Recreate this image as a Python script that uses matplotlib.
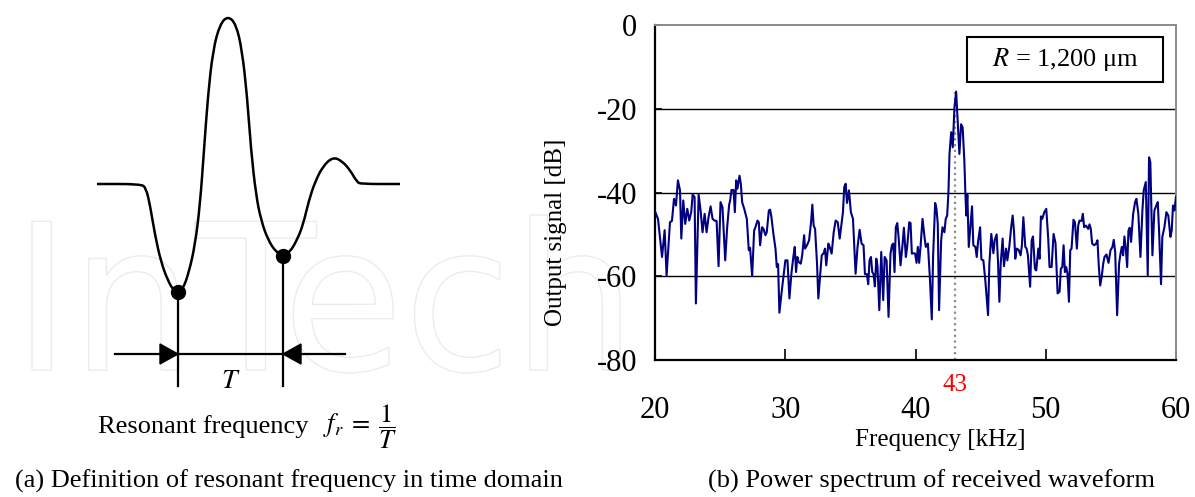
import numpy as np
import matplotlib
matplotlib.use('Agg')
import matplotlib.pyplot as plt
from matplotlib.path import Path
from matplotlib.patches import PathPatch, Polygon, Rectangle
from matplotlib.textpath import TextPath
from matplotlib.font_manager import FontProperties
from matplotlib.transforms import Affine2D

plt.rcParams['font.family'] = ['Liberation Serif', 'DejaVu Serif']
plt.rcParams['mathtext.fontset'] = 'stix'
plt.rcParams['axes.unicode_minus'] = False

W, H = 1195, 497

# received waveform power spectrum
freq_khz = [
    20.00, 20.23, 20.54, 20.74, 20.89, 21.15, 21.30, 21.46, 21.61, 21.76,
    21.92, 22.02, 22.17, 22.32, 22.48, 22.63, 22.78, 22.89, 23.04, 23.14,
    23.35, 23.50, 23.65, 23.81, 23.96, 24.11, 24.27, 24.42, 24.57, 24.73,
    24.88, 25.03, 25.18, 25.39, 25.54, 25.69, 25.77, 25.87, 26.03, 26.13,
    26.23, 26.33, 26.49, 26.59, 26.69, 26.85, 27.05, 27.20, 27.30, 27.46,
    27.61, 27.71, 27.87, 27.97, 28.07, 28.22, 28.33, 28.48, 28.58, 28.74,
    28.84, 28.94, 29.09, 29.25, 29.35, 29.45, 29.55, 29.71, 29.86, 30.01,
    30.17, 30.32, 30.47, 30.62, 30.73, 30.83, 30.93, 31.03, 31.19, 31.30,
    31.45, 31.52, 31.67, 31.83, 31.98, 32.08, 32.18, 32.29, 32.44, 32.54,
    32.69, 32.80, 32.95, 33.05, 33.15, 33.31, 33.41, 33.56, 33.72, 33.87,
    34.03, 34.18, 34.33, 34.43, 34.53, 34.64, 34.74, 34.89, 35.04, 35.20,
    35.40, 35.55, 35.71, 35.86, 36.01, 36.12, 36.27, 36.37, 36.47, 36.58,
    36.68, 36.78, 36.88, 36.99, 37.08, 37.22, 37.37, 37.52, 37.63, 37.78,
    37.93, 38.08, 38.19, 38.29, 38.39, 38.49, 38.60, 38.70, 38.85, 39.00,
    39.11, 39.26, 39.36, 39.52, 39.62, 39.72, 39.87, 39.97, 40.08, 40.18,
    40.28, 40.38, 40.54, 40.69, 40.79, 40.95, 41.10, 41.25, 41.35, 41.51,
    41.61, 41.71, 41.81, 41.97, 42.07, 42.22, 42.32, 42.43, 42.53, 42.61,
    42.74, 42.86, 42.99, 43.12, 43.24, 43.37, 43.50, 43.62, 43.75, 43.83,
    43.90, 43.98, 44.09, 44.19, 44.34, 44.44, 44.60, 44.70, 44.80, 44.96,
    45.06, 45.21, 45.36, 45.47, 45.57, 45.67, 45.82, 45.98, 46.08, 46.23,
    46.33, 46.44, 46.54, 46.69, 46.79, 46.95, 47.05, 47.20, 47.36, 47.46,
    47.56, 47.66, 47.77, 47.92, 48.07, 48.17, 48.28, 48.43, 48.53, 48.63,
    48.80, 48.92, 49.02, 49.17, 49.27, 49.43, 49.53, 49.63, 49.73, 49.89,
    50.04, 50.19, 50.29, 50.45, 50.60, 50.75, 50.91, 51.06, 51.16, 51.27,
    51.37, 51.47, 51.57, 51.67, 51.78, 51.88, 51.98, 52.13, 52.24, 52.39,
    52.49, 52.59, 52.75, 52.85, 52.95, 53.10, 53.26, 53.36, 53.46, 53.56,
    53.72, 53.87, 53.97, 54.07, 54.18, 54.30, 54.41, 54.51, 54.66, 54.82,
    54.97, 55.12, 55.22, 55.33, 55.48, 55.63, 55.74, 55.84, 55.94, 56.04,
    56.14, 56.25, 56.35, 56.45, 56.55, 56.71, 56.86, 56.96, 57.11, 57.27,
    57.42, 57.52, 57.68, 57.83, 57.93, 58.03, 58.19, 58.34, 58.49, 58.60,
    58.70, 58.85, 58.95, 59.11, 59.26, 59.41, 59.57, 59.67, 59.77, 59.88,
    60.00,
]
level_db = [
    -44.5, -46.3, -55.4, -49.0, -59.8, -47.1, -46.8, -41.5, -43.1, -37.1,
    -39.5, -51.0, -41.9, -47.5, -43.9, -46.7, -44.7, -40.5, -41.1, -66.5,
    -40.5, -44.3, -49.5, -45.1, -49.5, -45.9, -43.3, -46.3, -46.7, -46.8,
    -57.6, -42.3, -43.5, -56.2, -48.3, -43.0, -41.9, -39.4, -39.4, -44.7,
    -37.1, -39.1, -36.0, -37.9, -42.3, -43.9, -46.3, -53.8, -53.2, -60.0,
    -49.1, -48.3, -46.7, -47.1, -52.6, -48.3, -48.7, -50.2, -49.5, -44.3,
    -44.1, -45.9, -49.9, -53.4, -57.8, -57.1, -68.7, -64.1, -60.2, -56.2,
    -56.2, -65.3, -59.4, -55.4, -53.0, -59.0, -55.4, -56.6, -57.0, -55.0,
    -50.2, -53.4, -52.6, -51.4, -47.1, -42.9, -47.9, -48.7, -57.0, -65.3,
    -59.4, -55.0, -54.5, -53.4, -57.4, -52.2, -53.0, -54.6, -49.5, -46.7,
    -47.1, -51.0, -47.1, -44.7, -38.7, -37.9, -42.5, -39.5, -44.7, -46.3,
    -59.4, -53.0, -48.9, -52.2, -52.6, -59.5, -59.5, -61.9, -56.2, -55.4,
    -59.0, -59.5, -62.4, -55.8, -57.5, -68.1, -54.2, -65.7, -55.4, -56.2,
    -69.7, -54.6, -52.6, -52.2, -59.0, -48.3, -47.3, -50.6, -57.4, -52.6,
    -48.4, -55.4, -53.0, -47.1, -47.3, -54.6, -54.5, -54.6, -56.8, -53.0,
    -56.8, -53.2, -46.3, -50.6, -53.0, -52.2, -60.2, -70.3, -55.4, -42.5,
    -43.9, -47.5, -68.1, -51.4, -48.3, -49.5, -46.3, -45.5, -39.9, -30.8,
    -25.6, -29.2, -19.7, -15.9, -22.9, -30.8, -23.7, -24.5, -32.4, -40.3,
    -45.5, -40.5, -53.0, -49.1, -43.3, -52.6, -53.0, -55.4, -51.8, -48.3,
    -56.0, -56.2, -61.0, -65.3, -69.3, -57.0, -49.9, -54.5, -51.4, -50.0,
    -56.2, -66.1, -57.0, -51.0, -57.6, -53.4, -56.2, -53.0, -47.9, -45.5,
    -49.1, -55.8, -53.4, -53.7, -55.0, -52.6, -45.9, -53.0, -53.4, -55.0,
    -62.5, -51.4, -50.5, -58.2, -58.6, -53.4, -55.8, -45.7, -46.3, -44.7,
    -43.9, -51.0, -57.8, -57.8, -49.9, -52.1, -64.1, -63.7, -58.2, -57.8,
    -52.6, -59.0, -57.8, -59.4, -66.1, -53.8, -53.4, -46.5, -47.1, -53.4,
    -47.9, -46.7, -46.8, -45.1, -48.3, -47.9, -48.7, -47.6, -48.7, -52.2,
    -52.6, -52.2, -51.4, -57.4, -62.2, -60.0, -57.0, -55.4, -54.8, -56.8,
    -53.8, -53.0, -51.3, -54.2, -69.3, -57.0, -54.6, -53.0, -55.0, -50.5,
    -53.2, -57.8, -49.1, -48.4, -51.8, -45.1, -42.3, -41.5, -45.1, -55.4,
    -44.3, -39.5, -37.5, -59.8, -31.6, -32.8, -55.0, -44.3, -43.1, -42.3,
    -49.1, -61.9, -50.6, -48.3, -44.7, -45.5, -50.6, -49.1, -43.1, -44.3,
    -41.0,
]
peak_khz = 43
peak_db = -15.9
x_ticks = [20, 30, 40, 50, 60]
y_ticks = [0, -20, -40, -60, -80]
grid_db = [-20, -40, -60]
radius_label = '$R$ = 1,200 μm'

# schematic waveform, drawn in figure pixels
wave_x = [97, 141, 146, 150, 155, 161, 168, 174, 178, 183, 189, 195, 200, 204,
          208, 213, 220, 228, 236, 242, 247, 251, 256, 261, 268, 276, 283, 290,
          297, 303, 309, 315, 323, 333, 342, 350, 357, 361, 400]
wave_y = [184, 184, 188, 205, 235, 262, 281, 291, 293, 289, 272, 245, 205, 150,
          95, 50, 24, 16, 24, 50, 95, 150, 195, 220, 240, 252, 256, 252,
          240, 225, 200, 182, 166, 157, 161, 170, 182, 184, 184]
trough_pts = [(178, 292), (283, 256)]


def px(x, y):
    return x / W, 1 - y / H


def smooth_path(xs, ys):
    pts = np.column_stack([xs, ys]).astype(float)
    verts = [pts[0], (pts[0] + pts[1]) / 2]
    codes = [Path.MOVETO, Path.LINETO]
    for i in range(1, len(pts) - 1):
        verts += [pts[i], (pts[i] + pts[i + 1]) / 2]
        codes += [Path.CURVE3, Path.CURVE3]
    verts.append(pts[-1])
    codes.append(Path.LINETO)
    return Path(verts, codes)


fig = plt.figure(figsize=(W / 100, H / 100), dpi=100)

bg = fig.add_axes([0, 0, 1, 1])
bg.set_xlim(0, W)
bg.set_ylim(H, 0)
bg.axis('off')

# faint publisher mark behind the left panel
tp = TextPath((0, 0), 'InTech', size=100,
              prop=FontProperties(family='DejaVu Sans'))
ext = tp.get_extents()
sx = (620 - 32) / ext.width
sy = (373 - 215) / ext.height
tr = Affine2D().translate(-ext.x0, -ext.y0).scale(sx, -sy).translate(32, 373)
bg.add_patch(PathPatch(tr.transform_path(tp), facecolor='none',
                       edgecolor='#ececec', lw=1.0, zorder=0))

bg.add_patch(PathPatch(smooth_path(wave_x, wave_y), facecolor='none',
                       edgecolor='black', lw=1.8, capstyle='butt', zorder=2))
for xd, yd in trough_pts:
    bg.plot([xd, xd], [yd, 386], color='black', lw=1.6, zorder=2)
    bg.plot(xd, yd, 'o', color='black', ms=10, zorder=3)
bg.plot([115, 345], [354, 354], color='black', lw=1.6, zorder=2)
x1, x2 = trough_pts[0][0], trough_pts[1][0]
bg.add_patch(Polygon([(x1 - 18, 344), (x1, 354), (x1 - 18, 364)], closed=True,
                     color='black', zorder=3))
bg.add_patch(Polygon([(x2 + 18, 344), (x2, 354), (x2 + 18, 364)], closed=True,
                     color='black', zorder=3))
bg.text((x1 + x2) / 2, 382, '$T$', ha='center', va='center', fontsize=20)
bg.text(98, 427, 'Resonant frequency', ha='left', va='center', fontsize=19)
bg.text(323, 427, r'$f_r \;=\; \dfrac{1}{T}$', ha='left', va='center',
        fontsize=19)
bg.text(15, 481, '(a) Definition of resonant frequency in time domain',
        ha='left', va='center', fontsize=19)

# power spectrum panel
ax = fig.add_axes([655 / W, 1 - 360 / H, 521 / W, 335 / H], zorder=2)
ax.set_facecolor('white')
for g in grid_db:
    ax.axhline(g, color='black', lw=1.0, zorder=1)
ax.vlines(peak_khz, -80, peak_db, colors='#8c8c8c', linestyles=(0, (1, 1.6)),
          lw=1.6, zorder=2)
ax.plot(freq_khz, level_db, color='#000080', lw=1.5, zorder=3)
ax.set_xlim(20, 60)
ax.set_ylim(-80, 0)
ax.set_xticks(x_ticks)
ax.set_yticks(y_ticks)
ax.set_xticklabels([str(t) for t in x_ticks])
ax.set_yticklabels([str(t) for t in y_ticks])
ax.tick_params(axis='x', direction='in', length=8, width=1.2, pad=26,
               labelsize=22)
ax.tick_params(axis='y', direction='in', length=5, width=1.2, pad=13,
               labelsize=22)
for side in ('left', 'bottom'):
    ax.spines[side].set_linewidth(1.6)
    ax.spines[side].set_color('black')
for side in ('top', 'right'):
    ax.spines[side].set_linewidth(1.4)
    ax.spines[side].set_color('#8a8a8a')
ax.annotate(str(peak_khz), xy=(peak_khz, -80), xytext=(0, -18),
            textcoords='offset points', ha='center', va='center',
            color='red', fontsize=18, annotation_clip=False)
ax.add_patch(Rectangle((0.599, 0.831), 0.376, 0.132, transform=ax.transAxes,
                       facecolor='white', edgecolor='black', lw=1.5, zorder=4))
ax.text(0.787, 0.897, radius_label, transform=ax.transAxes, ha='center',
        va='center', fontsize=19, zorder=5)

fig.text(*px(940, 440), 'Frequency [kHz]', ha='center', va='center',
         fontsize=18)
fig.text(*px(556, 232), 'Output signal [dB]', ha='center', va='center',
         rotation=90, fontsize=18)
fig.text(*px(931, 481), '(b) Power spectrum of received waveform',
         ha='center', va='center', fontsize=19)

fig.savefig('out.png', dpi=100)
